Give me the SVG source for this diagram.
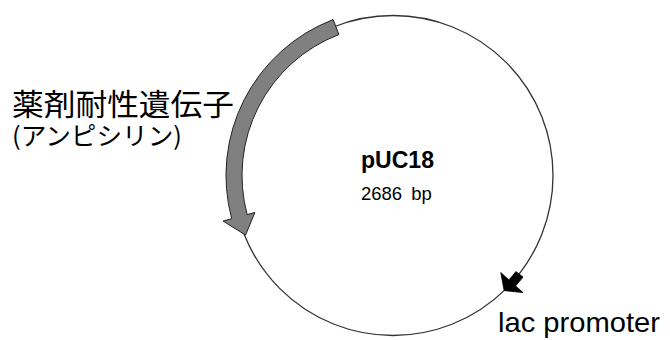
<svg xmlns="http://www.w3.org/2000/svg" width="670" height="340" viewBox="0 0 670 340">
<style>
.bb{fill:#ffffff}
.backbone{fill:none;stroke:#333333;stroke-width:1.3}
.gene{fill:#808080;stroke:#222222;stroke-width:1}
.prom{fill:#000000;stroke:#000000;stroke-width:0.8}
.jp{font-family:"Noto Sans CJK JP","Noto Sans CJK SC",sans-serif;fill:#000000}
.lat{font-family:"Liberation Sans",Arial,sans-serif;fill:#000000}
</style>
<rect class="bb" x="0" y="0" width="670" height="340"/>
<g id="plasmid">
<circle class="backbone" cx="393" cy="175.5" r="160"/>
<text class="lat" x="397.5" y="168" font-size="23" font-weight="bold" text-anchor="middle" textLength="73" lengthAdjust="spacingAndGlyphs">pUC18</text>
<text class="lat" font-size="18.5" fill="#222222" y="200"><tspan x="361">2686</tspan><tspan x="406"> bp</tspan></text>
</g>
<g id="amp-gene">
<path class="gene" d="M 333.15 19.59 A 167 167 0 0 0 231.69 218.72 L 223.0 221.05 L 245.58 235.06 L 254.88 212.51 L 247.15 214.58 A 151 151 0 0 1 338.88 34.53 Z"/>
<text class="jp" x="12" y="115" font-size="30" textLength="222" lengthAdjust="spacingAndGlyphs">薬剤耐性遺伝子</text>
<text class="jp" x="12" y="145" font-size="25" textLength="170" lengthAdjust="spacingAndGlyphs">(アンピシリン)</text>
</g>
<g id="lac-promoter">
<path class="prom" d="M 515.93 271.55 L 523.02 277.09 A 165 165 0 0 1 515.61 285.90 L 523.05 292.60 L 504.15 290.59 L 500.75 272.52 L 508.92 279.88 A 156 156 0 0 0 515.93 271.55 Z"/>
<text class="lat" x="498" y="332" font-size="28" textLength="162" lengthAdjust="spacingAndGlyphs">lac promoter</text>
</g>
</svg>
